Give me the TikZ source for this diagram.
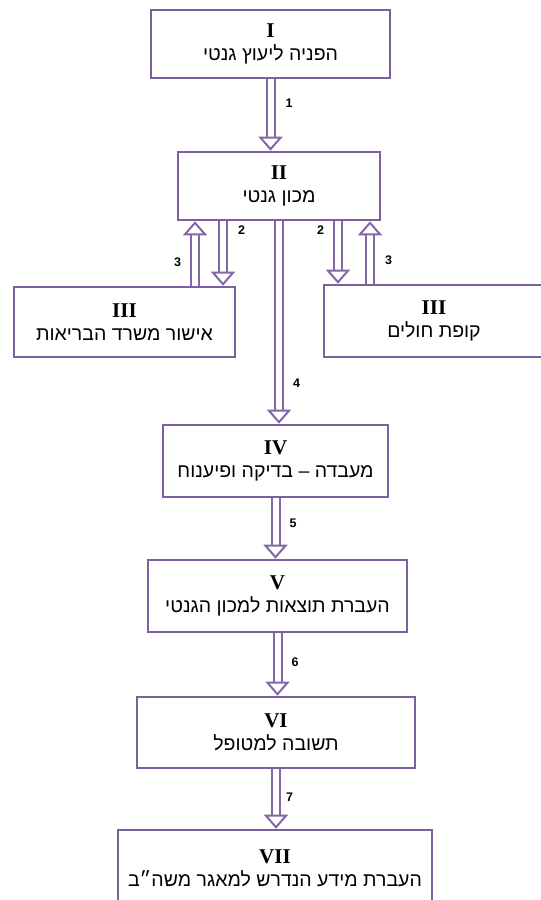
\documentclass[tikz,border=0pt]{standalone}
\usepackage{fontspec}
\setmainfont{Liberation Serif}
\newfontfamily\hebfont[Script=Hebrew]{Liberation Sans}
\newfontfamily\numfont{Liberation Sans}
\TeXXeTstate=1
\usetikzlibrary{arrows.meta}

\definecolor{boxpurple}{RGB}{124,96,160}
\definecolor{arrpurple}{RGB}{130,104,166}

\newcommand{\hebtext}{\hebfont\mdseries\fontsize{19.5}{23}\selectfont}

\tikzset{
  stagebox/.style={draw=boxpurple, line width=2.6pt, fill=white, align=center,
    font=\fontsize{21}{23}\selectfont\bfseries, inner sep=0pt},
  flowarrow/.style={draw=arrpurple, line width=2pt, double=white, double distance=6pt,
    -{Triangle[open, fill=white, length=14pt, width=24pt, line width'=2pt]}},
  steplabel/.style={font=\numfont\bfseries\fontsize{12.5}{12.5}\selectfont, inner sep=1pt}
}

\begin{document}
\begin{tikzpicture}[x=1pt, y=-1pt]
\useasboundingbox (0,0) rectangle (541,900);

\node[stagebox, minimum width=239pt, minimum height=68pt] (s1) at (270.5,44) {I\\\hebtext\beginR הפניה ליעוץ גנטי\endR};
\node[stagebox, minimum width=202pt, minimum height=68pt] (s2) at (279,186) {II\\\hebtext\beginR מכון גנטי\endR};
\node[stagebox, minimum width=221pt, minimum height=70pt] (s3a) at (124.5,322) {III\\\hebtext\beginR אישור משרד הבריאות\endR};
\node[stagebox, minimum width=220pt, minimum height=72pt] (s3b) at (434,321) {III\\\hebtext\beginR קופת חולים\endR};
\node[stagebox, minimum width=225pt, minimum height=72pt] (s4) at (275.5,461) {IV\\\hebtext\beginR מעבדה – בדיקה ופיענוח\endR};
\node[stagebox, minimum width=259pt, minimum height=72pt] (s5) at (277.5,596) {V\\\hebtext\beginR העברת תוצאות למכון הגנטי\endR};
\node[stagebox, minimum width=278pt, minimum height=71pt] (s6) at (276,732.5) {VI\\\hebtext\beginR תשובה למטופל\endR};
\node[stagebox, minimum width=314pt, minimum height=76pt] (s7) at (275,868) {VII\\\hebtext\beginR העברת מידע הנדרש למאגר משה״ב\endR};

\draw[flowarrow] (s1.south) -- (s1.south |- s2.north) node[steplabel, pos=0.34, right=13pt] {1};

\draw[flowarrow] ([xshift=-56pt]s2.south) -- ([xshift=-56pt]s2.south |- s3a.north) node[steplabel, pos=0.14, right=13pt] {2};
\draw[flowarrow] ([xshift=-84pt]s2.south |- s3a.north) -- ([xshift=-84pt]s2.south) node[steplabel, pos=0.37, left=12pt] {3};
\draw[flowarrow] ([xshift=59pt]s2.south) -- ([xshift=59pt]s2.south |- s3b.north) node[steplabel, pos=0.14, left=12pt] {2};
\draw[flowarrow] ([xshift=91pt]s2.south |- s3b.north) -- ([xshift=91pt]s2.south) node[steplabel, pos=0.37, right=13pt] {3};

\draw[flowarrow] (s2.south) -- (s2.south |- s4.north) node[steplabel, pos=0.8, right=12pt] {4};
\draw[flowarrow] (s4.south) -- (s4.south |- s5.north) node[steplabel, pos=0.41, right=12pt] {5};
\draw[flowarrow] (s5.south) -- (s5.south |- s6.north) node[steplabel, pos=0.46, right=12pt] {6};
\draw[flowarrow] (s6.south) -- (s6.south |- s7.north) node[steplabel, pos=0.47, right=8pt] {7};
\end{tikzpicture}
\end{document}
